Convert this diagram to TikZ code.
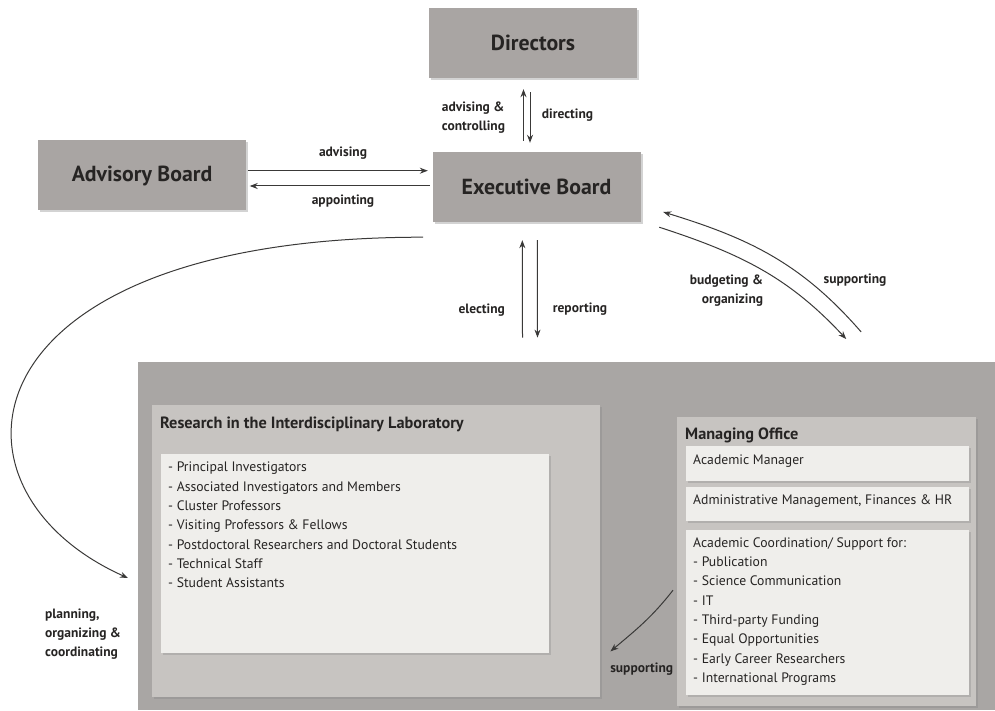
\documentclass[tikz,border=0pt]{standalone}
\usepackage{fontspec}
\setmainfont{PT Sans}
\usetikzlibrary{positioning,shadows,arrows.meta}

\definecolor{boxgray}{HTML}{A9A5A3}
\definecolor{outergray}{HTML}{A9A6A4}
\definecolor{labgray}{HTML}{C7C4C1}
\definecolor{paper}{HTML}{EFEEEB}
\definecolor{ink}{HTML}{262423}
\definecolor{linegray}{HTML}{3A3938}

\begin{document}
\begin{tikzpicture}[x=1pt, y=1pt,
  bigbox/.style={rectangle, fill=boxgray, minimum width=208pt, minimum height=70pt, inner sep=0pt, text=ink, font=\bfseries\fontsize{21.8}{26}\selectfont, drop shadow={shadow xshift=2pt, shadow yshift=-2pt, opacity=0.35}},
  panel/.style={rectangle, fill=labgray, inner sep=0pt, anchor=north west, drop shadow={shadow xshift=2pt, shadow yshift=-2pt, opacity=0.3}},
  sheet/.style={rectangle, fill=paper, inner sep=0pt, anchor=north west, drop shadow={shadow xshift=2pt, shadow yshift=-2pt, opacity=0.3}},
  paneltitle/.style={anchor=north west, inner sep=0pt, text=ink, font=\bfseries\fontsize{16.3}{19}\selectfont},
  listtext/.style={anchor=north west, align=left, inner sep=0pt, text=ink, font=\fontsize{13.7}{19.3}\selectfont},
  lbl/.style={inner sep=0pt, text=ink, font=\bfseries\fontsize{13.5}{19}\selectfont},
  arr/.style={draw=linegray, line width=1pt, -{Stealth[length=8pt, width=6pt]}}]

  \useasboundingbox (0,0) rectangle (995,710);

  % boards
  \node[bigbox] (dir) at (533,667) {Directors};
  \node[bigbox] (exec) at (536.5,523) {Executive Board};
  \node[bigbox] (adv) at (142,534.5) {Advisory Board};

  % the cluster
  \node[rectangle, fill=outergray, inner sep=0pt, minimum width=857pt, minimum height=348pt, anchor=south west] (cluster) at (138,0) {};

  \node[panel, minimum width=448pt, minimum height=292pt] (lab) at (152,305) {};
  \node[paneltitle] (labtitle) at ([xshift=8pt, yshift=-12pt]lab.north west) {Research in the Interdisciplinary Laboratory};
  \node[sheet, minimum width=388pt, minimum height=199pt] (members) at (161,256) {};
  \node[listtext] (memberlist) at ([xshift=7pt, yshift=-8pt]members.north west)
    {- Principal Investigators\\- Associated Investigators and Members\\- Cluster Professors\\- Visiting Professors \& Fellows\\- Postdoctoral Researchers and Doctoral Students\\- Technical Staff\\- Student Assistants};

  \node[panel, minimum width=299pt, minimum height=289pt] (office) at (677,293) {};
  \node[paneltitle] (officetitle) at ([xshift=8pt, yshift=-11pt]office.north west) {Managing Office};
  \node[sheet, minimum width=283pt, minimum height=35pt] (manager) at (686,264) {};
  \node[sheet, minimum width=283pt, minimum height=34pt, below=5pt of manager] (admin) {};
  \node[sheet, minimum width=283pt, minimum height=165pt, below=9pt of admin] (coord) {};
  \node[listtext] (managertext) at ([xshift=7pt, yshift=-8.5pt]manager.north west) {Academic Manager};
  \node[listtext] (admintext) at ([xshift=7pt, yshift=-8.5pt]admin.north west) {Administrative Management, Finances \& HR};
  \node[listtext] (coordtext) at ([xshift=7pt, yshift=-7.5pt]coord.north west)
    {Academic Coordination/ Support for:\\- Publication\\- Science Communication\\- IT\\- Third-party Funding\\- Equal Opportunities\\- Early Career Researchers\\- International Programs};

  % connectors
  \draw[arr] ([xshift=-13pt, yshift=11pt]exec.north) -- ([xshift=-9.5pt, yshift=-11pt]dir.south);
  \draw[arr] ([xshift=-3pt, yshift=-14pt]dir.south) -- ([xshift=-6.5pt, yshift=9pt]exec.north);
  \draw[arr] ([xshift=1.5pt, yshift=4.8pt]adv.east) -- ([xshift=-4.5pt, yshift=16.3pt]exec.west);
  \draw[arr] ([xshift=-2.5pt, yshift=1pt]exec.west) -- ([xshift=3.5pt, yshift=-10.5pt]adv.east);
  \draw[arr] ([xshift=-44.2pt, yshift=24pt]cluster.north) -- ([xshift=-14.2pt, yshift=-18pt]exec.south);
  \draw[arr] ([xshift=0.8pt, yshift=-18pt]exec.south) -- ([xshift=-29.2pt, yshift=24pt]cluster.north);
  \draw[arr] ([xshift=18.5pt, yshift=-5pt]exec.south east) to[out=-18, in=133] ([xshift=19.5pt, yshift=78pt]office.north);
  \draw[arr] ([xshift=34.5pt, yshift=85pt]office.north) to[out=131, in=-17] ([xshift=22.5pt, yshift=-25pt]exec.east);
  \draw[arr] ([xshift=-9.3pt, yshift=-15pt]exec.south west) .. controls (-40,473) and (-70,220.5) .. ([xshift=-10pt, yshift=132pt]cluster.south west);
  \draw[arr] ([xshift=-4pt, yshift=-28.5pt]office.west) to[out=232, in=40] ([xshift=10pt, yshift=46pt]lab.south east);

  % connector labels
  \node[lbl] (advlbl) at (343,557) {advising};
  \node[lbl] (applbl) at (343,509) {appointing};
  \node[lbl, align=left, anchor=west] (ctrllbl) at (441.7,592.5) {advising \&\\controlling};
  \node[lbl, anchor=west] (dirlbl) at (541.7,595) {directing};
  \node[lbl] (elelbl) at (481.7,400) {electing};
  \node[lbl] (replbl) at (580,401) {reporting};
  \node[lbl, align=right, anchor=east] (budlbl) at (763.3,419) {budgeting \&\\organizing};
  \node[lbl] (suplbl) at (855,430) {supporting};
  \node[lbl, align=left, anchor=west] (planlbl) at (45,76) {planning,\\organizing \&\\coordinating};
  \node[lbl] (offsuplbl) at (641.7,41) {supporting};

\end{tikzpicture}
\end{document}
